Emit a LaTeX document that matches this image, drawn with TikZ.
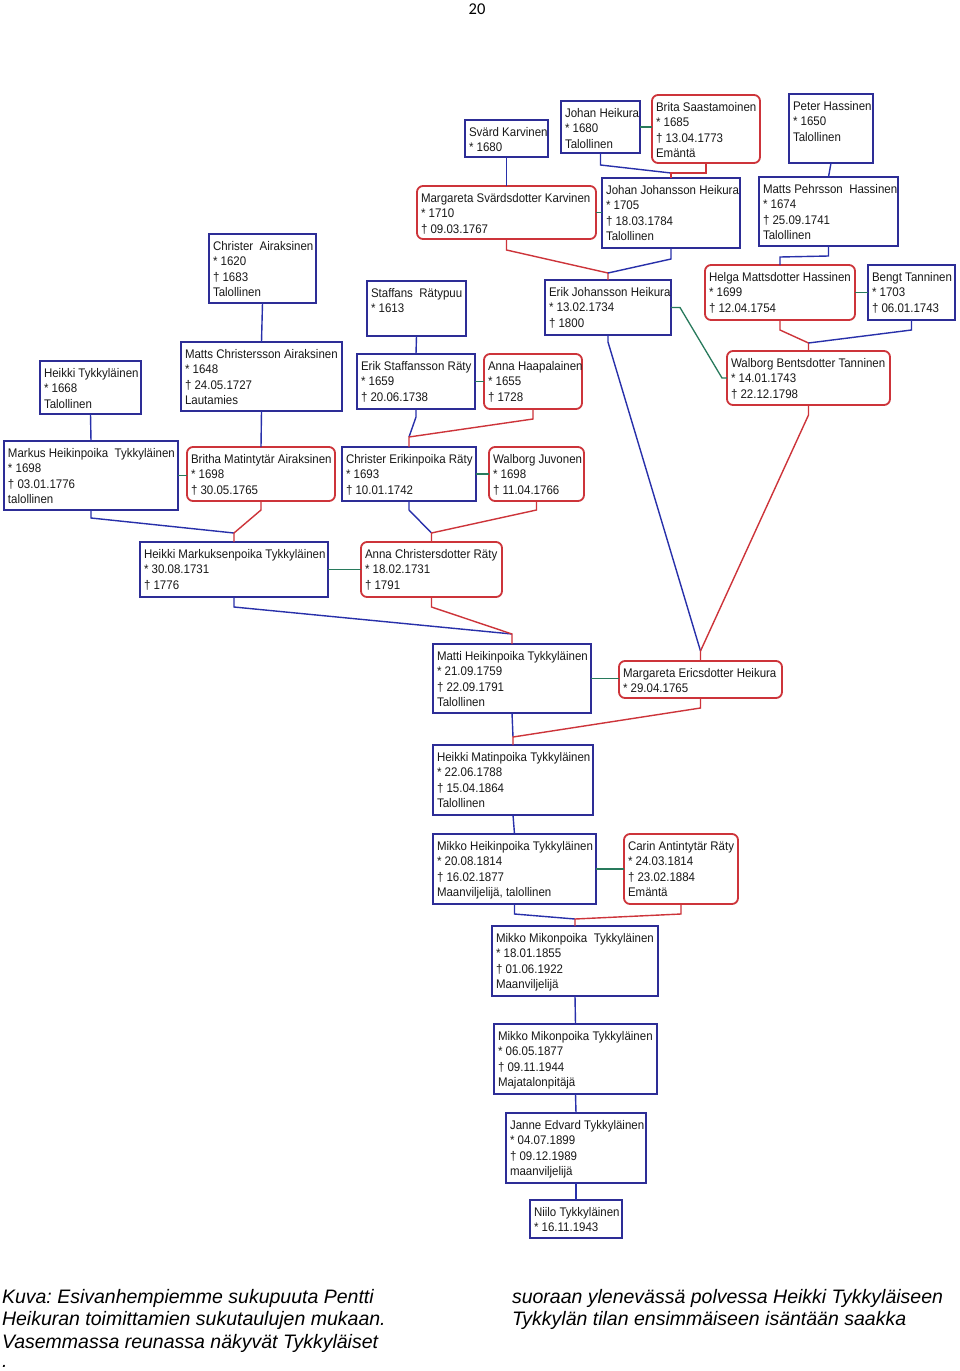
\documentclass[tikz,border=0pt]{standalone}
\usepackage{fontspec}
\setmainfont{Liberation Sans}
\newfontfamily\boxfont[FakeStretch=0.92]{Liberation Sans}
\newfontfamily\pagefont{Carlito}
\frenchspacing
\definecolor{bblue}{RGB}{45,45,150}
\definecolor{bred}{RGB}{205,52,58}
\definecolor{lblue}{RGB}{40,48,170}
\definecolor{lgreen}{RGB}{40,122,92}
\definecolor{txtc}{RGB}{25,25,25}
\tikzset{
  pbox/.style={draw=bblue, line width=1.8pt, outer sep=0pt, inner sep=0pt, rectangle},
  fbox/.style={draw=bred, line width=1.8pt, outer sep=0pt, inner sep=0pt, rectangle, rounded corners=6pt},
  txt/.style={inner sep=0pt, outer sep=0pt, align=left, text=txtc, font=\boxfont\fontsize{12.5}{15.6}\selectfont},
  captxt/.style={inner sep=0pt, outer sep=0pt, align=left, text=black, font=\itshape\fontsize{19.5}{22.6}\selectfont},
  fl/.style={draw=lblue, line width=1.4pt},
  ml/.style={draw=bred, line width=1.4pt},
  sl/.style={draw=lgreen, line width=1.3pt},
}
\newcommand{\Person}[7]{%
  \node[#2, anchor=north west, minimum width=#5-#3, minimum height=#6-#4] (#1) at (#3,#4) {};
  \node[txt, anchor=north west] (#1-txt) at (#3+4,#4+7) {#7};}
\begin{document}
\begin{tikzpicture}[x=1pt,y=-1pt]
\useasboundingbox[fill=white] (0,0) rectangle (960,1371);
\node[font=\pagefont\fontsize{16.5}{16.5}\selectfont, anchor=base, inner sep=0pt] (pnum) at (477,14) {20};

\Person{svard}{pbox}{465}{120}{548}{157}{Svärd Karvinen\\{}* 1680}
\Person{johanh}{pbox}{561}{101}{640}{153}{Johan Heikura\\{}* 1680\\Talollinen}
\Person{brita}{fbox}{652}{95}{760}{163}{Brita Saastamoinen\\{}* 1685\\† 13.04.1773\\Emäntä}
\Person{peter}{pbox}{789}{94}{873}{163}{Peter Hassinen\\{}* 1650\\Talollinen}
\Person{margsk}{fbox}{417}{186}{596}{239}{Margareta Svärdsdotter Karvinen\\{}* 1710\\† 09.03.1767}
\Person{johanjh}{pbox}{602}{178}{740}{248}{Johan Johansson Heikura\\{}* 1705\\† 18.03.1784\\Talollinen}
\Person{mattsph}{pbox}{759}{177}{898}{246}{Matts Pehrsson\ \ Hassinen\\{}* 1674\\† 25.09.1741\\Talollinen}
\Person{christa}{pbox}{209}{234}{316}{303}{Christer\ \ Airaksinen\\{}* 1620\\† 1683\\Talollinen}
\Person{staffans}{pbox}{367}{281}{466}{336}{Staffans\ \ Rätypuu\\{}* 1613}
\Person{erikjh}{pbox}{545}{280}{671}{335}{Erik Johansson Heikura\\{}* 13.02.1734\\† 1800}
\Person{helga}{fbox}{705}{265}{855}{320}{Helga Mattsdotter Hassinen\\{}* 1699\\† 12.04.1754}
\Person{bengt}{pbox}{868}{265}{955}{320}{Bengt Tanninen\\{}* 1703\\† 06.01.1743}
\Person{heikkit}{pbox}{40}{361}{141}{414}{Heikki Tykkyläinen\\{}* 1668\\Talollinen}
\Person{mattsca}{pbox}{181}{342}{342}{411}{Matts Christersson Airaksinen\\{}* 1648\\† 24.05.1727\\Lautamies}
\Person{eriksr}{pbox}{357}{354}{475}{409}{Erik Staffansson Räty\\{}* 1659\\† 20.06.1738}
\Person{annah}{fbox}{484}{354}{582}{409}{Anna Haapalainen\\{}* 1655\\† 1728}
\Person{walborgbt}{fbox}{727}{351}{890}{405}{Walborg Bentsdotter Tanninen\\{}* 14.01.1743\\† 22.12.1798}
\Person{markus}{pbox}{4}{441}{178}{510}{Markus Heikinpoika\ \ Tykkyläinen\\{}* 1698\\† 03.01.1776\\talollinen}
\Person{britha}{fbox}{187}{447}{335}{501}{Britha Matintytär Airaksinen\\{}* 1698\\† 30.05.1765}
\Person{christer}{pbox}{342}{447}{476}{501}{Christer Erikinpoika Räty\\{}* 1693\\† 10.01.1742}
\Person{walborgj}{fbox}{489}{447}{584}{501}{Walborg Juvonen\\{}* 1698\\† 11.04.1766}
\Person{heikmark}{pbox}{140}{542}{328}{597}{Heikki Markuksenpoika Tykkyläinen\\{}* 30.08.1731\\† 1776}
\Person{annacr}{fbox}{361}{542}{502}{597}{Anna Christersdotter Räty\\{}* 18.02.1731\\† 1791}
\Person{matti}{pbox}{433}{644}{591}{713}{Matti Heikinpoika Tykkyläinen\\{}* 21.09.1759\\† 22.09.1791\\Talollinen}
\Person{margeh}{fbox}{619}{661}{782}{698}{Margareta Ericsdotter Heikura\\{}* 29.04.1765}
\Person{heikmat}{pbox}{433}{745}{593}{815}{Heikki Matinpoika Tykkyläinen\\{}* 22.06.1788\\† 15.04.1864\\Talollinen}
\Person{mikkoh}{pbox}{433}{834}{596}{904}{Mikko Heikinpoika Tykkyläinen\\{}* 20.08.1814\\† 16.02.1877\\Maanviljelijä, talollinen}
\Person{carin}{fbox}{624}{834}{738}{904}{Carin Antintytär Räty\\{}* 24.03.1814\\† 23.02.1884\\Emäntä}
\Person{mikkoa}{pbox}{492}{926}{658}{996}{Mikko Mikonpoika\ \ Tykkyläinen\\{}* 18.01.1855\\† 01.06.1922\\Maanviljelijä}
\Person{mikkob}{pbox}{494}{1024}{657}{1094}{Mikko Mikonpoika Tykkyläinen\\{}* 06.05.1877\\† 09.11.1944\\Majatalonpitäjä}
\Person{janne}{pbox}{506}{1113}{646}{1183}{Janne Edvard Tykkyläinen\\{}* 04.07.1899\\† 09.12.1989\\maanviljelijä}
\Person{niilo}{pbox}{530}{1200}{622}{1238}{Niilo Tykkyläinen\\{}* 16.11.1943}

% two-parent families
\coordinate (j1) at ([yshift=5pt]johanjh.north);
\draw[fl] (johanh.south) -- ++(0,12) -- (j1);
\draw[ml] (brita.south) -- (brita.south |- j1) -- (j1) -- (johanjh.north);

\coordinate (j2) at ([yshift=7pt]erikjh.north);
\draw[ml] (margsk.south) -- ++(0,11) -- (j2) -- (erikjh.north);
\draw[fl] (johanjh.south) -- ++(0,11) -- (j2);

\coordinate (j3) at ([yshift=8pt]walborgbt.north);
\draw[ml] (helga.south) -- ++(0,10) -- (j3) -- (walborgbt.north);
\draw[fl] (bengt.south) -- ++(0,10) -- (j3);

\coordinate (j4) at ([yshift=10pt]christer.north);
\draw[fl] (eriksr.south) -- ++(0,8) -- (j4);
\draw[ml] (annah.south) -- ++(0,10) -- (j4) -- (christer.north);

\coordinate (j5) at ([yshift=9pt]heikmark.north);
\draw[fl] (markus.south) -- ++(0,8) -- (j5);
\draw[ml] (britha.south) -- ++(0,9) -- (j5) -- (heikmark.north);

\coordinate (j6) at ([yshift=9pt]annacr.north);
\draw[fl] (christer.south) -- ++(0,9) -- (j6);
\draw[ml] (walborgj.south) -- ++(0,9) -- (j6) -- (annacr.north);

\coordinate (j7) at ([yshift=10pt]matti.north);
\draw[fl] (heikmark.south) -- ++(0,10) -- (j7);
\draw[ml] (annacr.south) -- ++(0,10) -- (j7) -- (matti.north);

\coordinate (j8) at ([yshift=10pt]margeh.north);
\draw[fl] (erikjh.south) -- ++(0,7) -- (j8);
\draw[ml] (walborgbt.south) -- ++(0,10) -- (j8) -- (margeh.north);

\coordinate (j9) at ([yshift=8pt]heikmat.north);
\draw[fl] (matti.south) -- (j9);
\draw[ml] (margeh.south) -- ++(0,10) -- (j9) -- (heikmat.north);

\coordinate (j10) at ([yshift=7pt]mikkoa.north);
\draw[fl] (mikkoh.south) -- ++(0,10) -- (j10);
\draw[ml] (carin.south) -- ++(0,10) -- (j10) -- (mikkoa.north);

% single-parent links
\draw[fl] (svard.south) -- (margsk.north);
\draw[fl] (peter.south) -- (mattsph.north);
\draw[fl] (mattsph.south) -- ++(0,10) -- ([yshift=8pt]helga.north) -- (helga.north);
\draw[fl] (christa.south) -- (mattsca.north);
\draw[fl] (staffans.south) -- (eriksr.north);
\draw[fl] (heikkit.south) -- (markus.north);
\draw[fl] (mattsca.south) -- (britha.north);
\draw[fl] (heikmat.south) -- (mikkoh.north);
\draw[fl] (mikkoa.south) -- (mikkob.north);
\draw[fl] (mikkob.south) -- (janne.north);
\draw[fl] (janne.south) -- (niilo.north);

% spouse links
\draw[sl] (johanh.east) -- (johanh.east -| brita.west);
\draw[sl] (margsk.east) -- (margsk.east -| johanjh.west);
\draw[sl] (helga.east) -- (bengt.west);
\draw[sl] (erikjh.east) -- ++(9,0) -- ([xshift=-5pt]walborgbt.west) -- (walborgbt.west);
\draw[sl] (eriksr.east) -- (annah.west);
\draw[sl] (markus.east) -- (markus.east -| britha.west);
\draw[sl] (christer.east) -- (walborgj.west);
\draw[sl] (heikmark.east) -- (annacr.west);
\draw[sl] (matti.east) -- (matti.east -| margeh.west);
\draw[sl] (mikkoh.east) -- (carin.west);

% caption
\node[captxt, anchor=north west] (capl) at (2,1289) {Kuva: Esivanhempiemme sukupuuta Pentti\\Heikuran toimittamien sukutaulujen mukaan.\\Vasemmassa reunassa näkyvät Tykkyläiset};
\node[captxt, anchor=base west] (capdot) at (2,1367) {.};
\node[captxt, anchor=north west] (capr) at (512,1289) {suoraan ylenevässä polvessa Heikki Tykkyläiseen\\Tykkylän tilan ensimmäiseen isäntään saakka};
\end{tikzpicture}
\end{document}
